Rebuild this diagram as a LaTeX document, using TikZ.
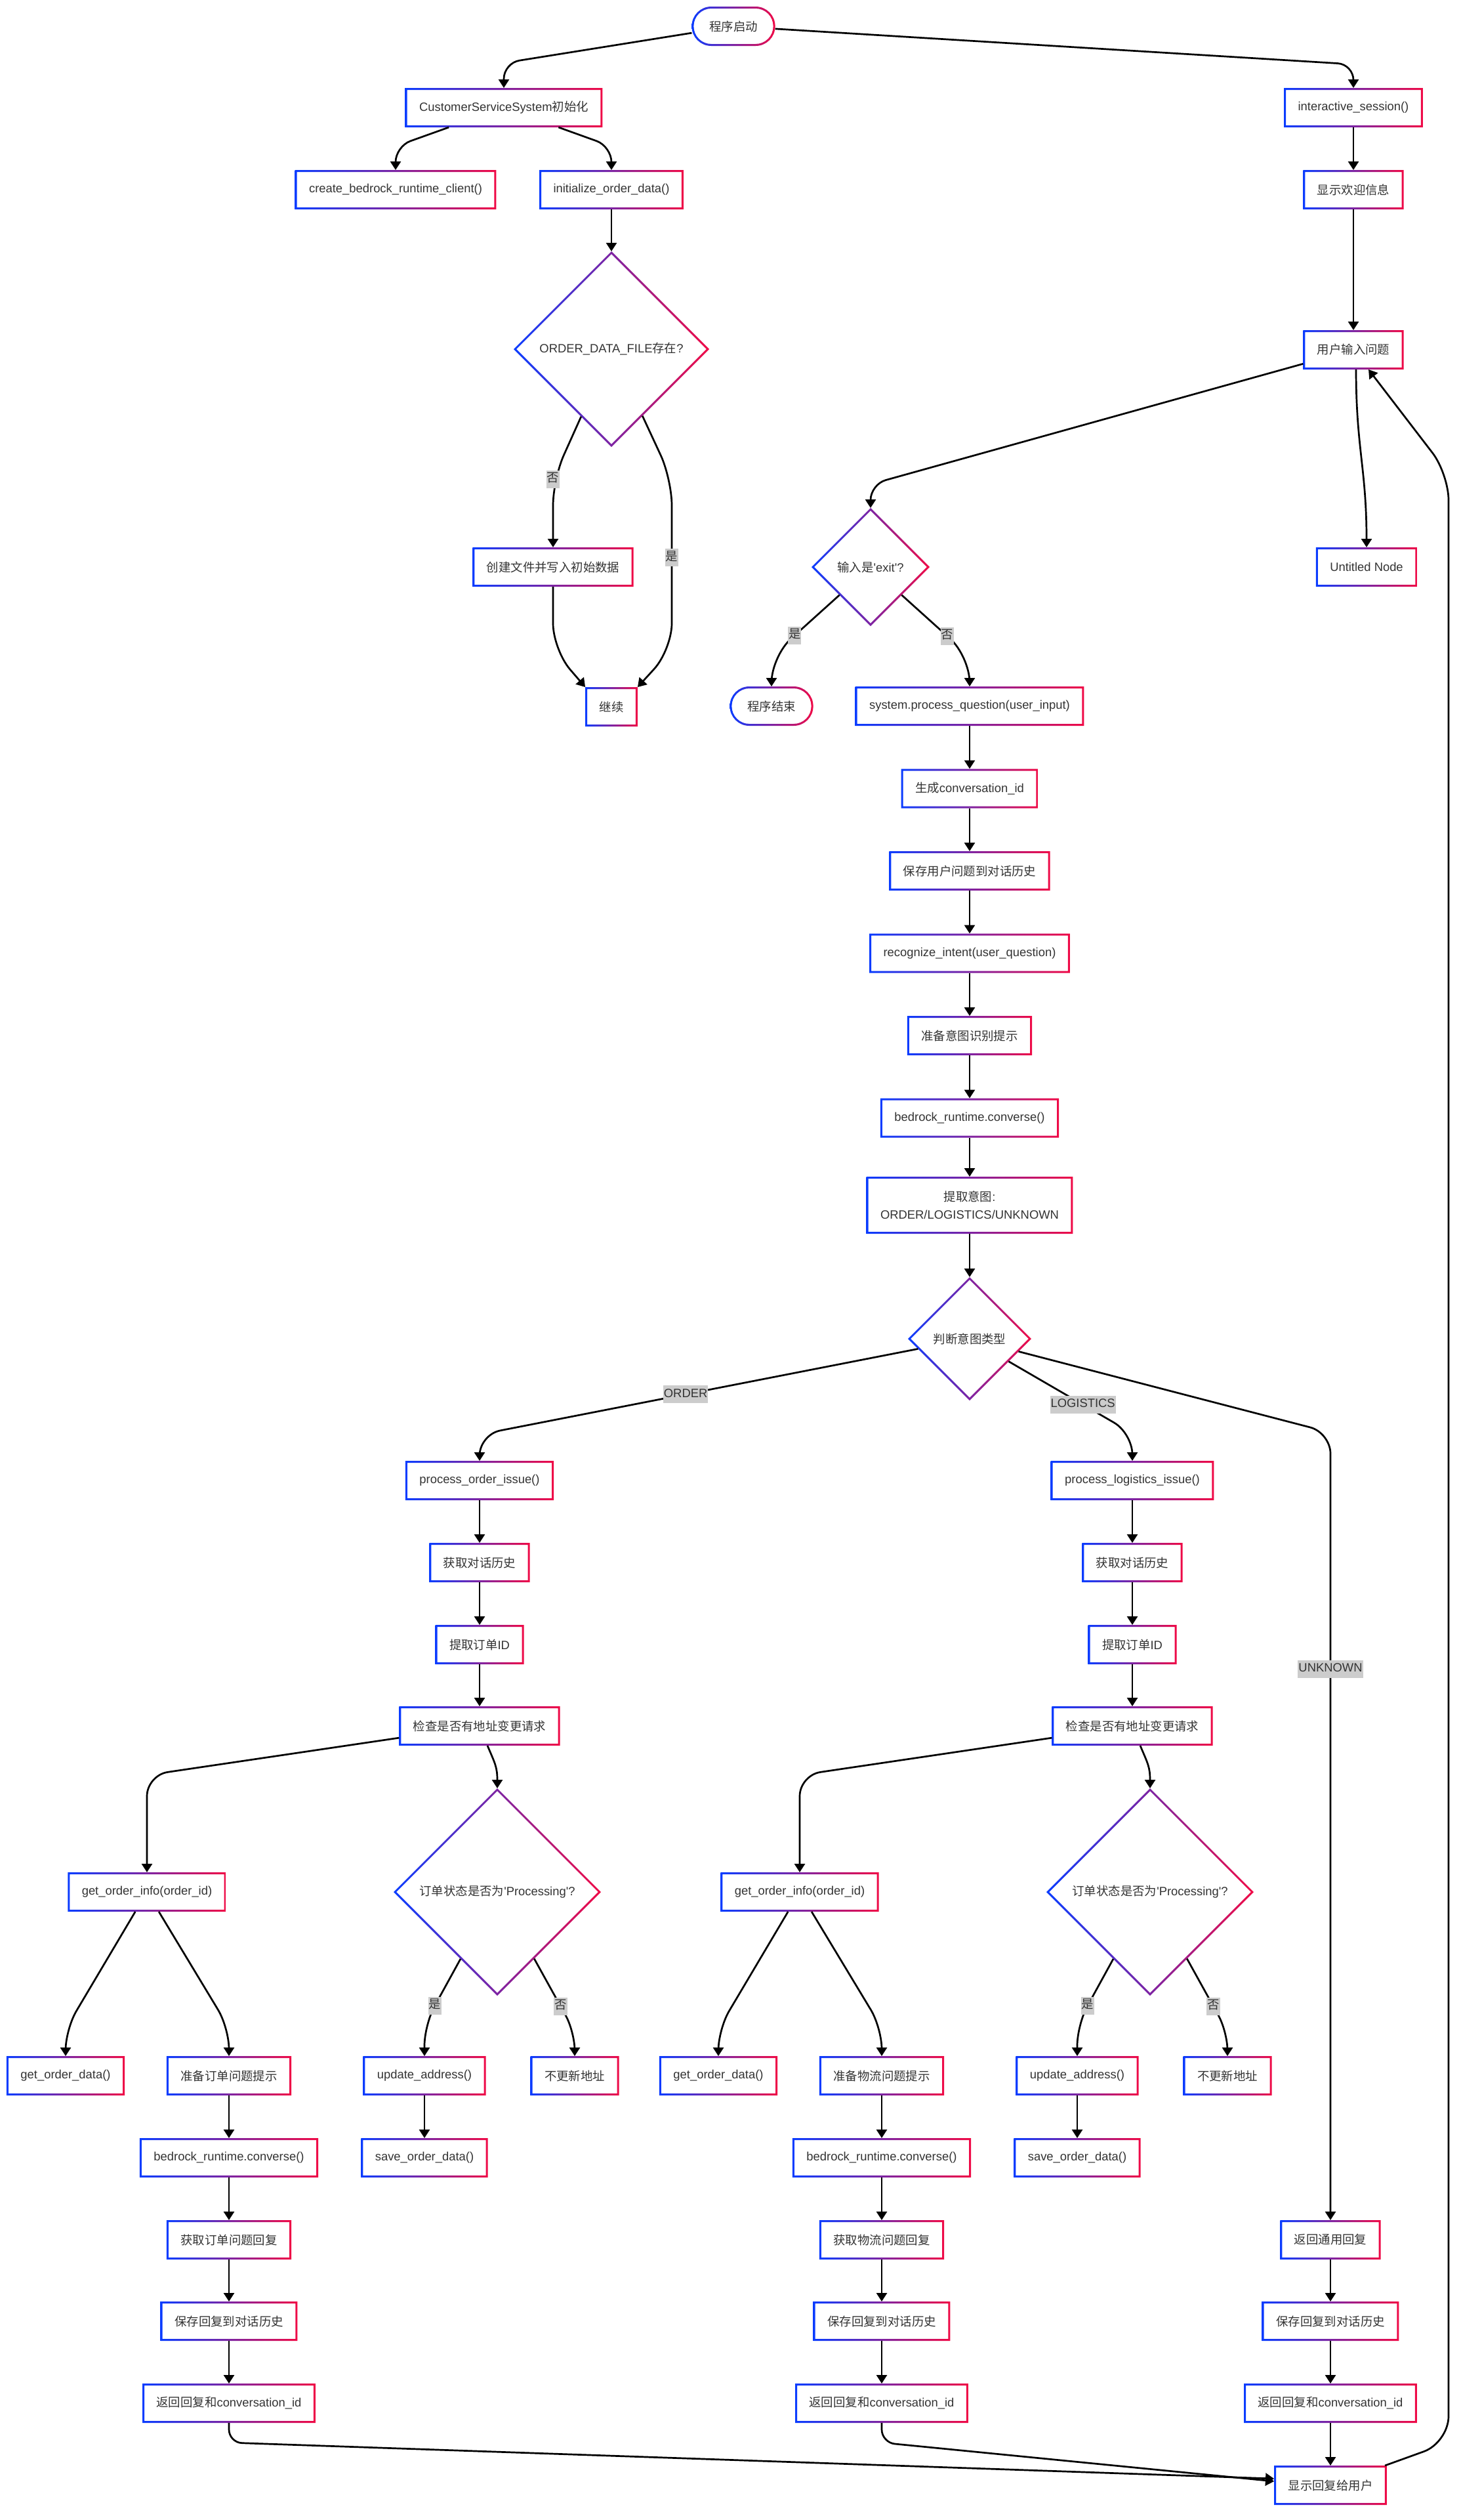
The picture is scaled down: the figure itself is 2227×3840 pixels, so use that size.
\documentclass[tikz,border=0pt]{standalone}
\usepackage{fontspec}
\setmainfont{Liberation Sans}
\newfontfamily\cjk{Noto Sans CJK SC}
\usetikzlibrary{arrows.meta}
\usetikzlibrary{shapes.geometric}

\definecolor{gblue}{RGB}{10,60,255}
\definecolor{gred}{RGB}{240,10,70}
\definecolor{txtgray}{RGB}{51,51,51}
\definecolor{lblgray}{RGB}{204,204,204}

\newcommand{\zh}[1]{{\cjk #1}}
\newcommand{\boxring}[1]{\shade[even odd rule, left color=gblue, right color=gred] (#1.south west) rectangle (#1.north east) ([shift={(1.5pt,1.5pt)}]#1.south west) rectangle ([shift={(-1.5pt,-1.5pt)}]#1.north east);}
\newcommand{\termring}[1]{\shade[even odd rule, left color=gblue, right color=gred, rounded corners=14.9pt] (#1.south west) rectangle (#1.north east) [rounded corners=13.4pt] ([shift={(1.5pt,1.5pt)}]#1.south west) rectangle ([shift={(-1.5pt,-1.5pt)}]#1.north east);}
\newcommand{\diamring}[1]{\shade[even odd rule, left color=gblue, right color=gred] (#1.north) -- (#1.east) -- (#1.south) -- (#1.west) -- cycle ([yshift=-2.1pt]#1.north) -- ([xshift=-2.1pt]#1.east) -- ([yshift=2.1pt]#1.south) -- ([xshift=2.1pt]#1.west) -- cycle;}

\tikzset{
	box/.style={rectangle, minimum height=30pt, inner xsep=10.75pt, inner ysep=0pt, outer sep=0pt, align=center, text=txtgray, font=\fontsize{9.2pt}{13.5pt}\selectfont},
	term/.style={box, inner xsep=13.4pt},
	decision/.style={diamond, aspect=1, inner sep=0pt, outer sep=0pt, text=txtgray, font=\fontsize{9.2pt}{13.5pt}\selectfont},
	flow/.style={-{Triangle[width=8pt,length=6.5pt]}, line width=1.35pt, rounded corners=12pt},
	lbl/.style={sharp corners, fill=lblgray, text=txtgray, inner xsep=0.5pt, inner ysep=2pt, text height=7pt, text depth=2.5pt, font=\fontsize{9.2pt}{13.5pt}\selectfont}
}

\begin{document}
\begin{tikzpicture}[x=0.5pt, y=-0.5pt]
	\fill[white] (0,0) rectangle (2227,3840);
	\useasboundingbox (0,0) rectangle (2227,3840);

	% start and setup
	\node[term] (start) at (1118,40) {\zh{程序启动}};
	\node[box] (init) at (768,164) {CustomerServiceSystem\zh{初始化}};
	\node[box] (client) at (603,289) {create\_bedrock\_runtime\_client()};
	\node[box] (initdata) at (932,289) {initialize\_order\_data()};
	\node[decision, minimum size=149pt] (fileq) at (932,532) {ORDER\_DATA\_FILE\zh{存在}?};
	\node[box] (create) at (843,864) {\zh{创建文件并写入初始数据}};
	\node[box] (cont) at (932,1077) {\zh{继续}};

	% session
	\node[box] (session) at (2063,164) {interactive\_session()};
	\node[box] (welcome) at (2063,289) {\zh{显示欢迎信息}};
	\node[box] (ask) at (2063,533) {\zh{用户输入问题}};
	\node[box] (untitled) at (2083,864) {Untitled Node};
	\node[decision, minimum size=90pt] (exitq) at (1327,864) {\zh{输入是}\textquotesingle exit\textquotesingle?};
	\node[term] (stop) at (1176,1076) {\zh{程序结束}};

	% main column
	\node[box] (process) at (1478,1076) {system.process\_question(user\_input)};
	\node[box] (genid) at (1478,1201.5) {\zh{生成}conversation\_id};
	\node[box] (saveq) at (1478,1327) {\zh{保存用户问题到对话历史}};
	\node[box] (recog) at (1478,1452.5) {recognize\_intent(user\_question)};
	\node[box] (prompt) at (1478,1578) {\zh{准备意图识别提示}};
	\node[box] (conv) at (1478,1703.5) {bedrock\_runtime.converse()};
	\node[box, minimum height=43.5pt] (extract) at (1478,1836.5) {\zh{提取意图}:\\ORDER/LOGISTICS/UNKNOWN};
	\node[decision, minimum size=94pt] (intent) at (1478,2040) {\zh{判断意图类型}};

	% order branch
	\node[box] (oproc) at (731,2256) {process\_order\_issue()};
	\node[box] (ohist) at (731,2381) {\zh{获取对话历史}};
	\node[box] (oid) at (731,2506) {\zh{提取订单}ID};
	\node[box] (ochk) at (731,2630) {\zh{检查是否有地址变更请求}};
	\node[box] (oinfo) at (224,2883) {get\_order\_info(order\_id)};
	\node[decision, minimum size=158pt] (ostat) at (758,2883) {\zh{订单状态是否为}\textquotesingle Processing\textquotesingle?};
	\node[box] (odata) at (100,3163) {get\_order\_data()};
	\node[box] (oprompt) at (349,3163) {\zh{准备订单问题提示}};
	\node[box] (oupd) at (647,3163) {update\_address()};
	\node[box] (onoupd) at (876,3163) {\zh{不更新地址}};
	\node[box] (osave) at (647,3288) {save\_order\_data()};
	\node[box] (oconv) at (349,3288) {bedrock\_runtime.converse()};
	\node[box] (oreply) at (349,3413) {\zh{获取订单问题回复}};
	\node[box] (ohsave) at (349,3537) {\zh{保存回复到对话历史}};
	\node[box] (oret) at (349,3662) {\zh{返回回复和}conversation\_id};

	% logistics branch
	\node[box] (lproc) at (1726,2256) {process\_logistics\_issue()};
	\node[box] (lhist) at (1726,2381) {\zh{获取对话历史}};
	\node[box] (lid) at (1726,2506) {\zh{提取订单}ID};
	\node[box] (lchk) at (1726,2630) {\zh{检查是否有地址变更请求}};
	\node[box] (linfo) at (1219,2883) {get\_order\_info(order\_id)};
	\node[decision, minimum size=158pt] (lstat) at (1753,2883) {\zh{订单状态是否为}\textquotesingle Processing\textquotesingle?};
	\node[box] (ldata) at (1095,3163) {get\_order\_data()};
	\node[box] (lprompt) at (1344,3163) {\zh{准备物流问题提示}};
	\node[box] (lupd) at (1642,3163) {update\_address()};
	\node[box] (lnoupd) at (1871,3163) {\zh{不更新地址}};
	\node[box] (lsave) at (1642,3288) {save\_order\_data()};
	\node[box] (lconv) at (1344,3288) {bedrock\_runtime.converse()};
	\node[box] (lreply) at (1344,3413) {\zh{获取物流问题回复}};
	\node[box] (lhsave) at (1344,3537) {\zh{保存回复到对话历史}};
	\node[box] (lret) at (1344,3662) {\zh{返回回复和}conversation\_id};

	% unknown branch
	\node[box] (ureply) at (2028,3413) {\zh{返回通用回复}};
	\node[box] (uhsave) at (2028,3537) {\zh{保存回复到对话历史}};
	\node[box] (uret) at (2028,3662) {\zh{返回回复和}conversation\_id};
	\node[box] (show) at (2028,3787) {\zh{显示回复给用户}};

	% borders
	\foreach \n in {init,client,initdata,create,cont,session,welcome,ask,untitled,%
		process,genid,saveq,recog,prompt,conv,extract,%
		oproc,ohist,oid,ochk,oinfo,odata,oprompt,oupd,onoupd,osave,oconv,oreply,ohsave,oret,%
		lproc,lhist,lid,lchk,linfo,ldata,lprompt,lupd,lnoupd,lsave,lconv,lreply,lhsave,lret,%
		ureply,uhsave,uret,show}
		{\boxring{\n}}
	\foreach \n in {fileq,exitq,intent,ostat,lstat}
		{\diamring{\n}}
	\termring{start}
	\termring{stop}

	% top edges
	\draw[flow] (start) -- ([yshift=19pt]init.north) -- (init.north);
	\draw[flow] (start) -- ([yshift=18pt]session.north) -- (session.north);
	\draw[flow] (init) -- ([yshift=18pt]client.north) -- (client.north);
	\draw[flow] (init) -- ([yshift=18pt]initdata.north) -- (initdata.north);
	\draw[flow] (initdata) -- (fileq);
	\draw[flow, rounded corners=20pt] (fileq) -- ([yshift=52pt]create.north) node[lbl] {\zh{否}} -- (create.north);
	\draw[flow, rounded corners=20pt] (fileq) -- (1024,730) -- node[lbl, pos=0.46] {\zh{是}} (1024,990) -- (cont.north east);
	\draw[flow, rounded corners=20pt] (create) -- (843,990) -- (cont.north west);

	% session edges
	\draw[flow] (session) -- (welcome);
	\draw[flow] (welcome) -- (ask);
	\draw[flow] (ask) -- ([yshift=18pt]exitq.north) -- (exitq.north);
	\draw[flow] ([xshift=2pt]ask.south) .. controls ([xshift=2pt,yshift=-60pt]ask.south) and ([yshift=60pt]untitled.north) .. (untitled.north);
	\draw[flow, rounded corners=20pt] (show) -- (2208,3722) -- (2208,722) -- (ask);
	\draw[flow, rounded corners=20pt] (exitq) -- node[lbl, pos=0.66] {\zh{是}} ([yshift=23pt]stop.north) -- (stop.north);
	\draw[flow, rounded corners=20pt] (exitq) -- node[lbl, pos=0.67] {\zh{否}} ([yshift=23pt]process.north) -- (process.north);

	% main column edges
	\draw[flow] (process) -- (genid);
	\draw[flow] (genid) -- (saveq);
	\draw[flow] (saveq) -- (recog);
	\draw[flow] (recog) -- (prompt);
	\draw[flow] (prompt) -- (conv);
	\draw[flow] (conv) -- (extract);
	\draw[flow] (extract) -- (intent);
	\draw[flow, rounded corners=16pt] (intent) -- node[lbl, pos=0.53] {ORDER} ([yshift=20pt]oproc.north) -- (oproc.north);
	\draw[flow, rounded corners=16pt] (intent) -- node[lbl, pos=0.6] {LOGISTICS} ([yshift=21pt]lproc.north) -- (lproc.north);
	\draw[flow, rounded corners=16pt] (intent) -- ([yshift=600pt]ureply.north) -- node[lbl, pos=0.3] {UNKNOWN} (ureply.north);

	% order edges
	\draw[flow] (oproc) -- (ohist);
	\draw[flow] (ohist) -- (oid);
	\draw[flow] (oid) -- (ochk);
	\draw[flow, rounded corners=16pt] (ochk) -- ([yshift=74pt]oinfo.north) -- (oinfo.north);
	\draw[flow] ([xshift=6pt]ochk.south) .. controls ([xshift=12pt,yshift=-14pt]ochk.south) and ([yshift=16pt]ostat.north) .. (ostat.north);
	\draw[flow, rounded corners=16pt] (oinfo) -- ([yshift=20.5pt]odata.north) -- (odata.north);
	\draw[flow, rounded corners=16pt] (oinfo) -- ([yshift=21.5pt]oprompt.north) -- (oprompt.north);
	\draw[flow, rounded corners=16pt] (ostat) -- node[lbl, pos=0.71] {\zh{是}} ([yshift=24pt]oupd.north) -- (oupd.north);
	\draw[flow, rounded corners=14pt] (ostat) -- node[lbl, pos=0.65] {\zh{否}} ([yshift=18.5pt]onoupd.north) -- (onoupd.north);
	\draw[flow] (oupd) -- (osave);
	\draw[flow] (oprompt) -- (oconv);
	\draw[flow] (oconv) -- (oreply);
	\draw[flow] (oreply) -- (ohsave);
	\draw[flow] (ohsave) -- (oret);
	\draw[flow, rounded corners=10pt] (oret) -- ([yshift=-15pt]oret.south) -- ([yshift=5pt]show.west);

	% logistics edges
	\draw[flow] (lproc) -- (lhist);
	\draw[flow] (lhist) -- (lid);
	\draw[flow] (lid) -- (lchk);
	\draw[flow, rounded corners=16pt] (lchk) -- ([yshift=74pt]linfo.north) -- (linfo.north);
	\draw[flow] ([xshift=6pt]lchk.south) .. controls ([xshift=12pt,yshift=-14pt]lchk.south) and ([yshift=16pt]lstat.north) .. (lstat.north);
	\draw[flow, rounded corners=16pt] (linfo) -- ([yshift=20.5pt]ldata.north) -- (ldata.north);
	\draw[flow, rounded corners=16pt] (linfo) -- ([yshift=21.5pt]lprompt.north) -- (lprompt.north);
	\draw[flow, rounded corners=16pt] (lstat) -- node[lbl, pos=0.71] {\zh{是}} ([yshift=24pt]lupd.north) -- (lupd.north);
	\draw[flow, rounded corners=14pt] (lstat) -- node[lbl, pos=0.65] {\zh{否}} ([yshift=18.5pt]lnoupd.north) -- (lnoupd.north);
	\draw[flow] (lupd) -- (lsave);
	\draw[flow] (lprompt) -- (lconv);
	\draw[flow] (lconv) -- (lreply);
	\draw[flow] (lreply) -- (lhsave);
	\draw[flow] (lhsave) -- (lret);
	\draw[flow, rounded corners=10pt] (lret) -- ([yshift=-15pt]lret.south) -- ([yshift=3pt]show.west);

	% unknown edges
	\draw[flow] (ureply) -- (uhsave);
	\draw[flow] (uhsave) -- (uret);
	\draw[flow] (uret) -- (show);
\end{tikzpicture}
\end{document}
